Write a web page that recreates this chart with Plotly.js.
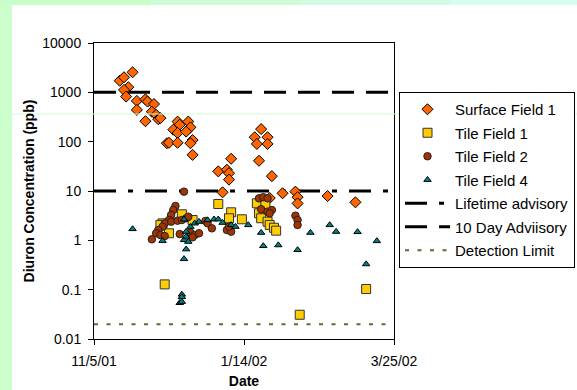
<!DOCTYPE html>
<html>
<head>
<meta charset="utf-8">
<script src="https://cdn.plot.ly/plotly-3.0.1.min.js"></script>
<style>html,body{margin:0;padding:0;background:#ccffcc;}#chart{width:577px;height:390px;}</style>
</head>
<body>
<div id="chart"></div>
<script>
// ---- Data ----
const xTickVals = ['2001-11-05', '2002-01-14', '2002-03-25'];
const xTickText = ['11/5/01', '1/14/02', '3/25/02'];
const yTickVals = [0.01, 0.1, 1, 10, 100, 1000, 10000];
const yTickText = ['0.01', '0.1', '1', '10', '100', '1000', '10000'];

const surfaceDates = ['2001-11-17','2001-11-19','2001-11-23','2001-11-21','2001-11-19','2001-11-20','2001-11-25','2001-11-25','2001-11-29','2001-11-29',
  '2001-11-30','2001-12-03','2001-12-02','2001-12-04','2001-12-05','2001-12-06','2001-12-14','2001-12-15','2001-12-12','2001-12-14',
  '2001-12-19','2001-12-20','2001-12-18','2001-12-09','2001-12-10','2001-12-14','2001-12-21','2001-12-20','2001-12-21','2002-01-02',
  '2002-01-06','2002-01-07','2002-01-07','2002-01-08','2002-01-22','2002-01-19','2002-01-20','2002-01-25','2002-01-25','2002-01-21',
  '2002-01-27','2002-01-04','2002-02-01','2002-02-07','2002-02-08','2002-02-08','2002-02-22','2002-03-07','2002-01-26'];
const surfaceValues = [1720,2020,2550,1270,1120,820,670,440,260,720,
  650,580,405,350,285,300,255,220,175,150,
  255,195,160,93,95,95,108,93,54,25,
  27,23,17,45,180,123,90,123,90,41,
  20,9.4,9.0,9.7,7.5,5.6,7.9,5.9,7.2];

const tile1Dates = ['2002-01-02','2002-01-08','2002-01-07','2002-01-13','2001-12-16','2001-12-21','2001-12-10','2001-12-07','2002-01-20','2002-01-21',
  '2002-01-22','2002-01-25','2002-01-26','2002-01-28','2002-01-29','2002-01-24','2001-12-08','2002-02-09','2002-03-12','2001-12-06'];
const tile1Values = [5.45,3.7,2.8,2.67,3.37,2.58,1.39,2.21,5.64,3.53,
  2.8,2.39,2.05,1.8,1.57,5.2,0.128,0.031,0.103,2.05];

const tile2Dates = ['2001-12-17','2001-12-13','2001-12-12','2001-12-11','2001-12-10','2001-12-08','2001-12-07','2001-12-05','2001-12-04','2001-12-02',
  '2001-12-06','2001-12-08','2001-12-11','2001-12-14','2001-12-16','2001-12-18','2001-12-19','2001-12-15','2001-12-20','2001-12-22',
  '2001-12-24','2001-12-21','2001-12-27','2001-12-28','2001-12-30','2002-01-06','2002-01-08','2002-01-07','2002-01-21','2002-01-23',
  '2002-01-25','2002-01-22','2002-01-25','2002-01-27','2002-01-26','2002-02-07','2002-02-08','2002-02-08'];
const tile2Values = [9.7,4.97,4.12,3.27,2.58,2.21,1.89,1.62,1.39,1.05,
  1.28,1.22,2.39,2.5,2.58,2.8,3.01,1.34,1.43,1.28,
  1.39,1.15,2.47,2.21,1.75,1.62,1.5,1.89,7.1,7.5,
  7.1,4.26,3.81,4.12,3.53,3.16,2.58,2.05];

const tile4Dates = ['2001-11-23','2001-12-07','2001-12-17','2001-12-18','2001-12-17','2001-12-18','2001-12-19','2001-12-18','2001-12-20','2001-12-22',
  '2001-12-24','2001-12-28','2001-12-31','2002-01-02','2002-01-04','2002-01-08','2002-01-10','2002-01-16','2002-01-22','2002-01-23',
  '2002-01-30','2002-02-08','2002-02-14','2002-02-23','2002-02-26','2001-12-16','2001-12-16','2001-12-15','2001-12-16','2001-12-17',
  '2002-03-08','2002-03-12','2002-03-17'];
const tile4Values = [1.7,0.98,0.42,0.66,1.02,1.19,0.94,1.5,1.89,2.21,
  2.39,2.58,2.67,2.67,2.28,2.05,1.89,2.05,1.43,0.77,
  0.8,0.64,1.43,2.05,1.5,0.08,0.071,0.054,0.057,2.67,
  1.48,0.33,0.97];

const lineDates = ['2001-11-05', '2002-03-25'];
const lifetimeValues = [10, 10];
const tenDayValues = [1000, 1000];
const detectionValues = [0.02, 0.02];

// ---- Helpers for pixel -> paper coords ----
const PL = 94, PR = 394, PT = 43, PB = 339;
const px = v => (v - PL) / (PR - PL);
const py = v => (PB - v) / (PB - PT);

const FONT = 'Liberation Sans, Arial, sans-serif';

const traces = [
  {x: lineDates, y: lifetimeValues, mode: 'lines', name: 'Lifetime advisory', legendgroup: 'g5', legendrank: 5,
   line: {color: '#000000', width: 3, dash: '22px,12px,5px,12px'}, hoverinfo: 'skip'},
  {x: lineDates, y: tenDayValues, mode: 'lines', name: '10 Day Adviisory', legendgroup: 'g6', legendrank: 6,
   line: {color: '#000000', width: 3, dash: '22px,12px'}, hoverinfo: 'skip'},
  {x: lineDates, y: detectionValues, mode: 'lines', name: 'Detection Limit', legendgroup: 'g7', legendrank: 7,
   line: {color: '#666633', width: 2, dash: '4px,8.5px'}, hoverinfo: 'skip'},
  {x: surfaceDates, y: surfaceValues, mode: 'markers', name: 'Surface Field 1', legendgroup: 'g1', legendrank: 1,
   marker: {symbol: 'diamond', size: 8.5, color: '#ff6600', line: {color: '#000000', width: 1}}},
  {x: tile1Dates, y: tile1Values, mode: 'markers', name: 'Tile Field 1', legendgroup: 'g2', legendrank: 2,
   marker: {symbol: 'square', size: 9, color: '#ffcc00', line: {color: '#333333', width: 1}}},
  {x: tile2Dates, y: tile2Values, mode: 'markers', name: 'Tile Field 2', legendgroup: 'g3', legendrank: 3,
   marker: {symbol: 'circle', size: 7.5, color: '#a33300', line: {color: '#222222', width: 1}}},
  {x: tile4Dates, y: tile4Values, mode: 'markers', name: 'Tile Field 4', legendgroup: 'g4', legendrank: 4,
   marker: {symbol: 'triangle-up', size: 6.5, color: '#008080', line: {color: '#000000', width: 1}}}
];

const shapes = [
  // white slide area
  {type: 'rect', xref: 'paper', yref: 'paper', x0: px(12), x1: px(577), y0: py(390), y1: py(5),
   fillcolor: '#ffffff', line: {width: 0}, layer: 'below'},
  // top strip gradient
  {type: 'rect', xref: 'paper', yref: 'paper', x0: px(0), x1: px(150), y0: py(5), y1: py(0), fillcolor: '#c8fcc8', line: {width: 0}, layer: 'below'},
  {type: 'rect', xref: 'paper', yref: 'paper', x0: px(150), x1: px(300), y0: py(5), y1: py(0), fillcolor: '#cdfcd6', line: {width: 0}, layer: 'below'},
  {type: 'rect', xref: 'paper', yref: 'paper', x0: px(300), x1: px(450), y0: py(5), y1: py(0), fillcolor: '#d2fbe4', line: {width: 0}, layer: 'below'},
  {type: 'rect', xref: 'paper', yref: 'paper', x0: px(450), x1: px(577), y0: py(5), y1: py(0), fillcolor: '#d8fbf2', line: {width: 0}, layer: 'below'},
  // faint slide line
  {type: 'line', xref: 'paper', yref: 'paper', x0: px(12), x1: px(577), y0: py(114), y1: py(114),
   line: {color: '#ccffcc', width: 1}, layer: 'above'}
];

const layout = {
  width: 577, height: 390,
  margin: {l: PL, r: 577 - PR, t: PT, b: 390 - PB, pad: 0, autoexpand: false},
  paper_bgcolor: '#ccffcc',
  plot_bgcolor: 'rgba(0,0,0,0)',
  font: {family: FONT, size: 14, color: '#000000'},
  showlegend: true,
  shapes: shapes,
  xaxis: {
    type: 'date', range: ['2001-11-05', '2002-03-25'],
    tickmode: 'array', tickvals: xTickVals, ticktext: xTickText,
    ticks: 'outside', ticklen: 5, tickcolor: '#000000', tickwidth: 1,
    showline: true, linecolor: '#000000', linewidth: 1, mirror: true,
    showgrid: false, zeroline: false, fixedrange: true, automargin: false,
    tickfont: {family: FONT, size: 14}, ticklabelstandoff: 4,
    title: {text: '<b>Date</b>', font: {family: FONT, size: 14}, standoff: 8}
  },
  yaxis: {
    type: 'log', range: [-2, 4],
    tickmode: 'array', tickvals: yTickVals, ticktext: yTickText,
    ticks: 'outside', ticklen: 5, tickcolor: '#000000', tickwidth: 1,
    showline: true, linecolor: '#000000', linewidth: 1, mirror: true,
    showgrid: false, zeroline: false, fixedrange: true, automargin: false,
    tickfont: {family: FONT, size: 14}, ticklabelstandoff: 4,
    title: {text: '<b>Diuron Concentration (ppb)</b>', font: {family: FONT, size: 14}, standoff: 4}
  },
  legend: {
    x: px(399), y: py(92), xanchor: 'left', yanchor: 'top',
    bgcolor: '#ffffff', bordercolor: '#000000', borderwidth: 1,
    font: {family: FONT, size: 15, color: '#000000'},
    traceorder: 'grouped', tracegroupgap: 1, itemwidth: 45
  }
};

Plotly.newPlot('chart', traces, layout, {displayModeBar: false, staticPlot: true});
</script>
</body>
</html>
